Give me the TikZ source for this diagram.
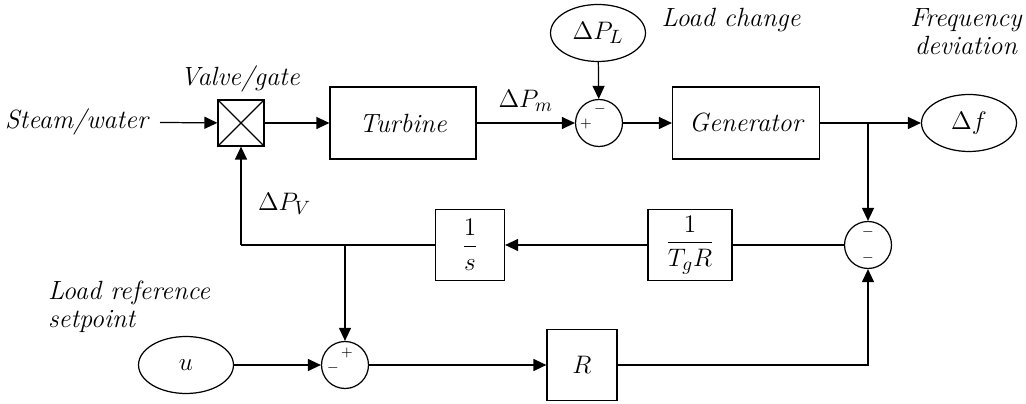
\documentclass[tikz,border=0pt]{standalone}
\usepackage{amsmath,amssymb}
\usepackage{tikz}
\usetikzlibrary{shapes.geometric,arrows.meta,positioning,calc}

\tikzset{
  lbl/.style={font=\fontsize{15}{18}\selectfont\itshape, inner sep=1pt},
  block/.style={draw, line width=0.7pt, inner sep=0pt, font=\fontsize{15}{18}\selectfont},
  sumj/.style={draw, circle, line width=0.7pt, minimum size=0.94cm, inner sep=0pt},
  sig/.style={ellipse, draw, line width=0.7pt, minimum width=1.9cm, minimum height=1.14cm, inner sep=0pt, font=\fontsize{15}{18}\selectfont},
  sgn/.style={font=\footnotesize, inner sep=0pt},
  arr/.style={line width=0.7pt, -{Triangle[length=0.26cm,width=0.24cm]}},
  ln/.style={line width=0.7pt}
}

\begin{document}
\begin{tikzpicture}[x=0.02cm, y=-0.02cm]
  \useasboundingbox (0,0) rectangle (1026,404);
  % forward path
  \node[lbl, anchor=east] (steam) at (150,122) {Steam/water};
  \node[block, minimum size=0.92cm] (valve) at (241,123) {};
  \draw[ln] (valve.north west) -- (valve.south east);
  \draw[ln] (valve.north east) -- (valve.south west);
  \node[lbl] (valvelbl) at (240,79) {Valve/gate};
  \node[block, minimum width=2.92cm, minimum height=1.44cm] (turb) at (403,123) {\itshape Turbine};
  \node[sumj] (sum1) at (599,123) {};
  \node[sgn] at (586,124) {$+$};
  \node[sgn] at (600,109) {$-$};
  \node[sig] (dpl) at (598,33) {$\Delta P_L$};
  \node[lbl] (loadch) at (731,20) {Load change};
  \node[block, minimum width=2.94cm, minimum height=1.44cm] (gen) at (746,123) {\itshape Generator};
  \node[sig] (df) at (969,123) {$\Delta f$};
  \node[lbl, align=center] (freqlbl) at (966,32) {Frequency\\[-2pt]deviation};
  \coordinate (br1) at (868,123);
  % feedback path
  \node[sumj] (sum2) at (868,245) {};
  \node[sgn] at (868,232) {$-$};
  \node[sgn] at (868,258) {$-$};
  \node[block, minimum width=1.68cm, minimum height=1.42cm] (tgr) at (690,245) {$\dfrac{1}{T_g R}$};
  \node[block, minimum width=1.38cm, minimum height=1.42cm] (integ) at (470,245) {$\dfrac{1}{s}$};
  \coordinate (cnr) at (241,245);
  \coordinate (br2) at (345,245);
  % reference path
  \node[sumj] (sum3) at (345,365) {};
  \node[sgn] at (347,353) {$+$};
  \node[sgn] at (333,368) {$-$};
  \node[sig] (u) at (186,365) {$u$};
  \node[lbl, align=left, anchor=north west] (reflbl) at (46,279) {Load reference\\[-2pt]setpoint};
  \node[block, minimum width=1.4cm, minimum height=1.42cm] (rblk) at (582,365) {$R$};
  % connectors
  \draw[arr, shorten <=0.2cm] (steam) -- (valve);
  \draw[arr] (valve) -- (turb);
  \draw[arr] (turb) -- node[above=3pt, font=\fontsize{15}{18}\selectfont] {$\Delta P_m$} (sum1);
  \draw[arr] (dpl) -- (sum1);
  \draw[arr] (sum1) -- (gen);
  \draw[ln] (gen.east) -- (br1);
  \draw[arr] (br1) -- (df);
  \draw[arr] (br1) -- (sum2);
  \draw[ln] (sum2) -- (tgr);
  \draw[arr] (tgr) -- (integ);
  \draw[ln] (integ.west) -- (cnr);
  \draw[arr] (cnr) -- node[right=6pt, pos=0.42, font=\fontsize{15}{18}\selectfont] {$\Delta P_V$} (valve);
  \draw[arr] (br2) -- (sum3);
  \draw[arr] (u) -- (sum3);
  \draw[arr] (sum3) -- (rblk);
  \draw[arr] (rblk.east) -| (sum2.south);
\end{tikzpicture}
\end{document}
